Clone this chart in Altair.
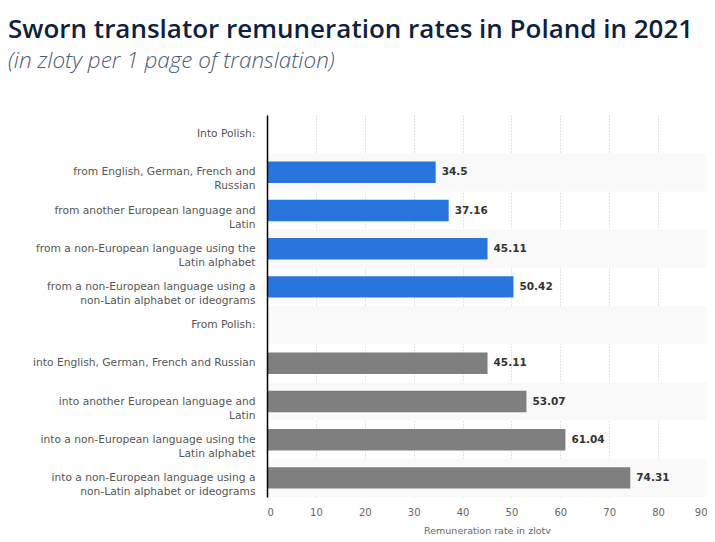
import altair as alt
import pandas as pd

categories = [
    "Into Polish:",
    "from English, German, French and|Russian",
    "from another European language and|Latin",
    "from a non-European language using the|Latin alphabet",
    "from a non-European language using a|non-Latin alphabet or ideograms",
    "From Polish:",
    "into English, German, French and Russian",
    "into another European language and|Latin",
    "into a non-European language using the|Latin alphabet",
    "into a non-European language using a|non-Latin alphabet or ideograms",
]
values = [None, 34.5, 37.16, 45.11, 50.42, None, 45.11, 53.07, 61.04, 74.31]
labels = ["", "34.5", "37.16", "45.11", "50.42", "", "45.11", "53.07", "61.04", "74.31"]
groups = ["Into", "Into", "Into", "Into", "Into", "From", "From", "From", "From", "From"]
stripe = [0, 1, 0, 1, 0, 1, 0, 1, 0, 1]
x_ticks = [0, 10, 20, 30, 40, 50, 60, 70, 80, 90]

df = pd.DataFrame({
    "cat": categories,
    "value": values,
    "label": labels,
    "group": groups,
    "stripe": stripe,
})

y_enc = alt.Y(
    "cat:N",
    sort=categories,
    scale=alt.Scale(domain=categories, paddingInner=0, paddingOuter=0),
    axis=alt.Axis(
        title=None,
        labelExpr="split(datum.label, '|')",
        labelFontSize=10.7,
        labelColor="#555555",
        labelFont="DejaVu Sans",
        labelLineHeight=14,
        labelPadding=12,
        labelLimit=300,
        ticks=False,
        domainColor="#000000",
        domainWidth=1.5,
        grid=False,
    ),
)

x_scale = alt.Scale(domain=[0, 90], nice=False)
x_axis = alt.Axis(
    title="Remuneration rate in zloty",
    values=x_ticks,
    titleFont="DejaVu Sans",
    titleFontSize=9.5,
    titleFontWeight="normal",
    titleColor="#666666",
    titlePadding=8,
    labelFont="DejaVu Sans",
    labelFontSize=10,
    labelColor="#666666",
    labelPadding=10,
    domain=False,
    ticks=False,
    grid=True,
    gridColor="#c8c8c8",
    gridDash=[1, 2],
    gridWidth=1,
)

base = alt.Chart(df)

stripes = base.transform_filter("datum.stripe == 1").mark_rect(color="#f9f9f9").encode(
    y=y_enc,
    x=alt.datum(0, scale=x_scale, axis=x_axis),
    x2=alt.datum(90),
)

bars = base.transform_filter("isValid(datum.value)").mark_bar(
    height=alt.RelativeBandSize(0.56)
).encode(
    y=y_enc,
    x=alt.X("value:Q", scale=x_scale, axis=x_axis),
    color=alt.Color(
        "group:N",
        scale=alt.Scale(domain=["Into", "From"], range=["#2876dd", "#7f7f7f"]),
        legend=None,
    ),
)

texts = base.transform_filter("isValid(datum.value)").mark_text(
    align="left", baseline="middle", dx=6, fontSize=10.5, fontWeight="bold",
    font="DejaVu Sans", color="#333333"
).encode(
    y=y_enc,
    x=alt.X("value:Q", scale=x_scale, axis=x_axis),
    text="label:N",
)

chart = alt.layer(stripes, bars, texts).properties(
    width=440,
    height=382,
    padding={"left": 259, "top": 107, "right": 0, "bottom": 37},
    autosize=alt.AutoSizeParams(type="none"),
    background="#ffffff",
    title=alt.TitleParams(
        text="Sworn translator remuneration rates in Poland in 2021",
        subtitle="(in zloty per 1 page of translation)",
        anchor="start",
        frame="group",
        dx=-259,
        offset=43,
        font="Open Sans",
        fontSize=26,
        fontWeight=600,
        color="#0f1f3d",
        subtitleFont="Open Sans",
        subtitleFontSize=22.5,
        subtitleFontStyle="italic",
        subtitleFontWeight=300,
        subtitleColor="#4b5b76",
        subtitlePadding=7,
    ),
).configure_view(stroke=None)

chart.save("out.html", embed_options={"renderer": "svg", "actions": False})
